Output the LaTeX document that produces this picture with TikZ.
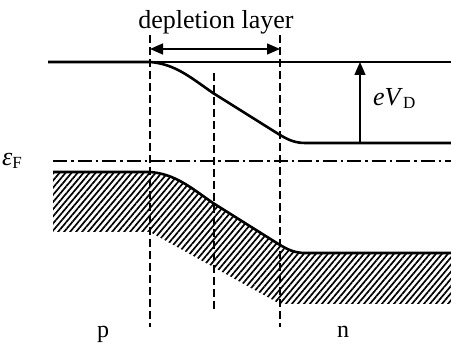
\documentclass[tikz,border=0pt]{standalone}
\usepackage{fontspec}
\setmainfont{Liberation Serif}
\usetikzlibrary{arrows.meta,patterns.meta}
\begin{document}
\begin{tikzpicture}[x=1pt,y=1pt,
  band/.style={line width=2.6pt},
  thinline/.style={line width=1.6pt},
  vdash/.style={line width=1.8pt,dash pattern=on 8pt off 4pt},
  fermi/.style={line width=1.3pt,dash pattern=on 14pt off 4pt on 2.5pt off 4pt},
  bigtip/.style={-{Triangle[length=13pt,width=11pt]}},
  lbl/.style={font=\fontsize{26}{30}\selectfont,inner sep=0pt},
  sublbl/.style={font=\fontsize{24}{28}\selectfont,inner sep=0pt}]
\useasboundingbox (0,0) rectangle (451,-344);
% hatched valence band
\path[pattern={Lines[angle=50,distance=4.6pt,line width=1.7pt]}]
  (53,-172) -- (150,-172) .. controls (175,-174) and (190,-187) .. (213,-203)
  -- (272,-240) .. controls (284,-247.5) and (292,-253) .. (305,-253) -- (451,-253)
  -- (451,-304) -- (280,-304) -- (150,-232) -- (53,-232) -- cycle;
% conduction band
\draw[thinline] (48,-62) -- (451,-62);
\draw[band] (48,-62) -- (150,-62) .. controls (175,-64) and (190,-77) .. (213,-93)
  -- (272,-130) .. controls (284,-137.5) and (292,-143) .. (305,-143) -- (451,-143);
% valence band edge
\draw[band] (53,-172) -- (150,-172) .. controls (175,-174) and (190,-187) .. (213,-203)
  -- (272,-240) .. controls (284,-247.5) and (292,-253) .. (305,-253) -- (451,-253);
% Fermi level
\coordinate (f1) at (53,-161);
\coordinate (f2) at (451,-161);
\draw[fermi] (f1) -- (f2);
% verticals
\coordinate (l1) at (150,-35); \coordinate (l2) at (150,-327);
\coordinate (m1) at (214,-73); \coordinate (m2) at (214,-312);
\coordinate (r1) at (280,-35); \coordinate (r2) at (280,-327);
\draw[vdash] (l1) -- (l2);
\draw[vdash] (m1) -- (m2);
\draw[vdash] (r1) -- (r2);
% depletion arrow
\coordinate (da) at (150,-49); \coordinate (db) at (280,-49);
\draw[line width=1.5pt,{Triangle[length=13pt,width=11pt]}-{Triangle[length=13pt,width=11pt]}] (da) -- (db);
\node[lbl,anchor=base] (dep) at (216,-29) {depletion layer};
% eV_D arrow
\coordinate (ea) at (360,-143); \coordinate (eb) at (360,-62);
\draw[line width=1.5pt,bigtip] (ea) -- (eb);
\node[lbl,anchor=base west] (evd) at (373,-106) {\textit{eV}\raisebox{-0.25ex}{\fontsize{17}{20}\selectfont D}};
\node[lbl,anchor=base west] (ef) at (2,-166) {\textit{ε}\raisebox{-0.25ex}{\fontsize{17}{20}\selectfont F}};
% region labels
\node[sublbl,anchor=base] (p) at (103,-338) {p};
\node[sublbl,anchor=base] (n) at (343,-338) {n};
\end{tikzpicture}
\end{document}
